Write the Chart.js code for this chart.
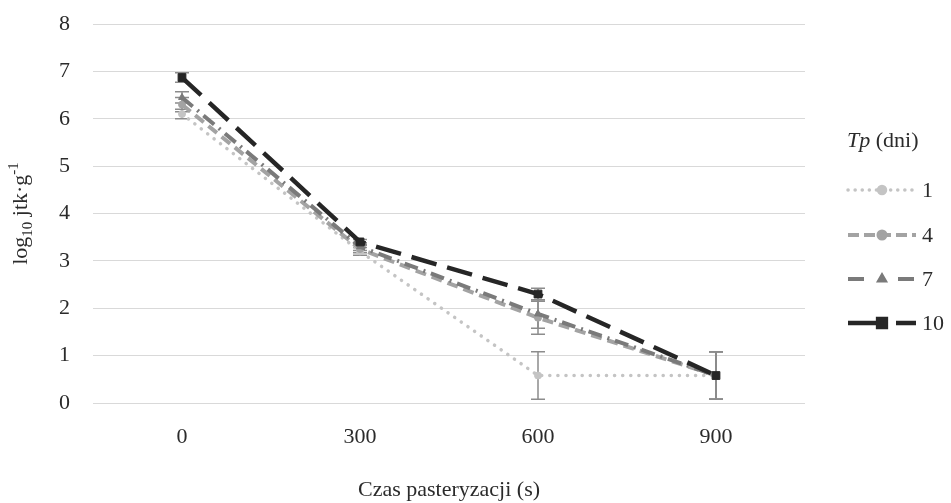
<!DOCTYPE html>
<html>
<head>
<meta charset="utf-8">
<script src="https://cdn.jsdelivr.net/npm/chart.js@4"></script>
<style>
  html, body { margin: 0; padding: 0; background: #fff; }
  #wrap { width: 951px; height: 503px; }
</style>
</head>
<body>
<div id="wrap"><canvas id="chart" width="951" height="503"></canvas></div>
<script>
// pasteurisation time categories (s)
const categories = ["0", "300", "600", "900"];

// log10 cfu/g for each Tp (days)
const tp1 = [6.1, 3.2, 0.58, 0.58];
const tp4 = [6.3, 3.25, 1.8, 0.58];
const tp7 = [6.45, 3.3, 1.88, 0.58];
const tp10 = [6.87, 3.4, 2.3, 0.58];

// error bar half-widths
const err1 = [0.1, 0.08, 0.5, 0.5];
const err4 = [0.15, 0.08, 0.35, 0.5];
const err7 = [0.12, 0.08, 0.3, 0.5];
const err10 = [0.1, 0.05, 0.12, 0.5];

const seriesLabels = ["1", "4", "7", "10"];
const yMin = 0, yMax = 8, yStep = 1;

const FONT = "'Liberation Serif', 'Times New Roman', serif";
const TEXT = "#2b2b2b";
const FS = 22;

// error bars under the lines
const errorBars = {
    id: "errorBars",
    beforeDatasetsDraw(chart) {
        const ctx = chart.ctx;
        const y = chart.scales.y;
        ctx.save();
        ctx.strokeStyle = "#8c8c8c";
        ctx.lineWidth = 1.5;
        chart.data.datasets.forEach((ds, i) => {
            const meta = chart.getDatasetMeta(i);
            ds.errors.forEach((e, j) => {
                const x = meta.data[j].x;
                const top = y.getPixelForValue(ds.data[j] + e);
                const bot = y.getPixelForValue(ds.data[j] - e);
                ctx.beginPath();
                ctx.moveTo(x, top); ctx.lineTo(x, bot);
                ctx.moveTo(x - 7, top); ctx.lineTo(x + 7, top);
                ctx.moveTo(x - 7, bot); ctx.lineTo(x + 7, bot);
                ctx.stroke();
            });
        });
        ctx.restore();
    }
};

// y title with sub/superscript and the legend on the right
const extras = {
    id: "extras",
    afterDraw(chart) {
        const ctx = chart.ctx;
        const area = chart.chartArea;
        ctx.save();
        ctx.fillStyle = TEXT;
        ctx.textBaseline = "alphabetic";

        // y axis title
        const big = FS + "px " + FONT, small = "15px " + FONT;
        const parts = [
            { t: "log", f: big, dy: 0 },
            { t: "10", f: small, dy: 5 },
            { t: " jtk·g", f: big, dy: 0 },
            { t: "-1", f: small, dy: -9 }
        ];
        let total = 0;
        parts.forEach(p => { ctx.font = p.f; p.w = ctx.measureText(p.t).width; total += p.w; });
        ctx.translate(27, (area.top + area.bottom) / 2);
        ctx.rotate(-Math.PI / 2);
        let cx = -total / 2;
        parts.forEach(p => {
            ctx.font = p.f;
            ctx.fillText(p.t, cx, p.dy);
            cx += p.w;
        });
        ctx.setTransform(1, 0, 0, 1, 0, 0);

        // legend title
        ctx.textBaseline = "middle";
        ctx.textAlign = "left";
        ctx.font = "italic " + FS + "px " + FONT;
        ctx.fillText("Tp", 847, 141);
        const tw = ctx.measureText("Tp").width;
        ctx.font = FS + "px " + FONT;
        ctx.fillText(" (dni)", 847 + tw, 141);

        // legend rows
        const rowsY = [190, 235, 279, 323];
        chart.data.datasets.forEach((ds, i) => {
            const yy = rowsY[i];
            ctx.save();
            ctx.strokeStyle = ds.borderColor;
            ctx.lineWidth = ds.borderWidth;
            ctx.lineCap = ds.borderCapStyle;
            ctx.setLineDash(ds.legendDash);
            ctx.beginPath();
            ctx.moveTo(848, yy); ctx.lineTo(916, yy);
            ctx.stroke();
            ctx.setLineDash([]);
            ctx.fillStyle = ds.pointBackgroundColor;
            ctx.strokeStyle = ds.pointBorderColor;
            Chart.helpers.drawPoint(ctx, {
                pointStyle: ds.pointStyle,
                radius: ds.legendRadius,
                rotation: 0,
                borderWidth: 1
            }, 882, yy);
            ctx.restore();
            ctx.fillStyle = TEXT;
            ctx.font = FS + "px " + FONT;
            ctx.fillText(ds.label, 922, yy + 1);
        });
        ctx.restore();
    }
};

function series(label, data, errors, color, dash, legendDash, cap, width, style, radius, order) {
    return {
        label: label,
        data: data,
        errors: errors,
        borderColor: color,
        borderWidth: width,
        borderDash: dash,
        legendDash: legendDash,
        borderCapStyle: cap,
        pointStyle: style,
        pointRadius: radius,
        legendRadius: style === "triangle" ? 3 : radius,
        pointBackgroundColor: color,
        pointBorderColor: color,
        pointBorderWidth: 1,
        tension: 0,
        fill: false,
        order: order
    };
}

new Chart(document.getElementById("chart"), {
    type: "line",
    data: {
        labels: categories,
        datasets: [
            series(seriesLabels[0], tp1, err1, "#c4c4c4", [0.1, 8], [0.1, 7], "round", 3.5, "circle", 3.5, 3),
            series(seriesLabels[1], tp4, err4, "#a3a3a3", [11, 6], [11, 5], "butt", 4, "circle", 3.5, 2),
            series(seriesLabels[2], tp7, err7, "#7a7a7a", [14, 6, 2, 6], [16, 34], "butt", 4, "triangle", 4, 1),
            series(seriesLabels[3], tp10, err10, "#262626", [26, 11], [34, 14], "butt", 4.5, "rect", 5.5, 0)
        ]
    },
    options: {
        responsive: false,
        animation: false,
        layout: { padding: { left: 0, right: 146, top: 24, bottom: 0 } },
        plugins: {
            legend: { display: false },
            tooltip: { enabled: false }
        },
        scales: {
            x: {
                offset: true,
                grid: { display: false, drawTicks: false, offset: true },
                border: { display: false },
                ticks: { color: TEXT, font: { family: FONT, size: FS }, padding: 21 },
                title: {
                    display: true,
                    text: "Czas pasteryzacji (s)",
                    color: TEXT,
                    font: { family: FONT, size: FS },
                    padding: { top: 0, bottom: 0 }
                },
                afterFit(scale) { scale.height = 100; }
            },
            y: {
                min: yMin,
                max: yMax,
                grid: { color: "#d9d9d9", lineWidth: 1, drawTicks: false },
                border: { display: false },
                ticks: { stepSize: yStep, color: TEXT, font: { family: FONT, size: FS }, padding: 23 },
                afterFit(scale) {
                    scale.width = 93;
                    scale.paddingTop = 0;
                    scale.paddingBottom = 0;
                }
            }
        }
    },
    plugins: [errorBars, extras]
});
</script>
</body>
</html>
